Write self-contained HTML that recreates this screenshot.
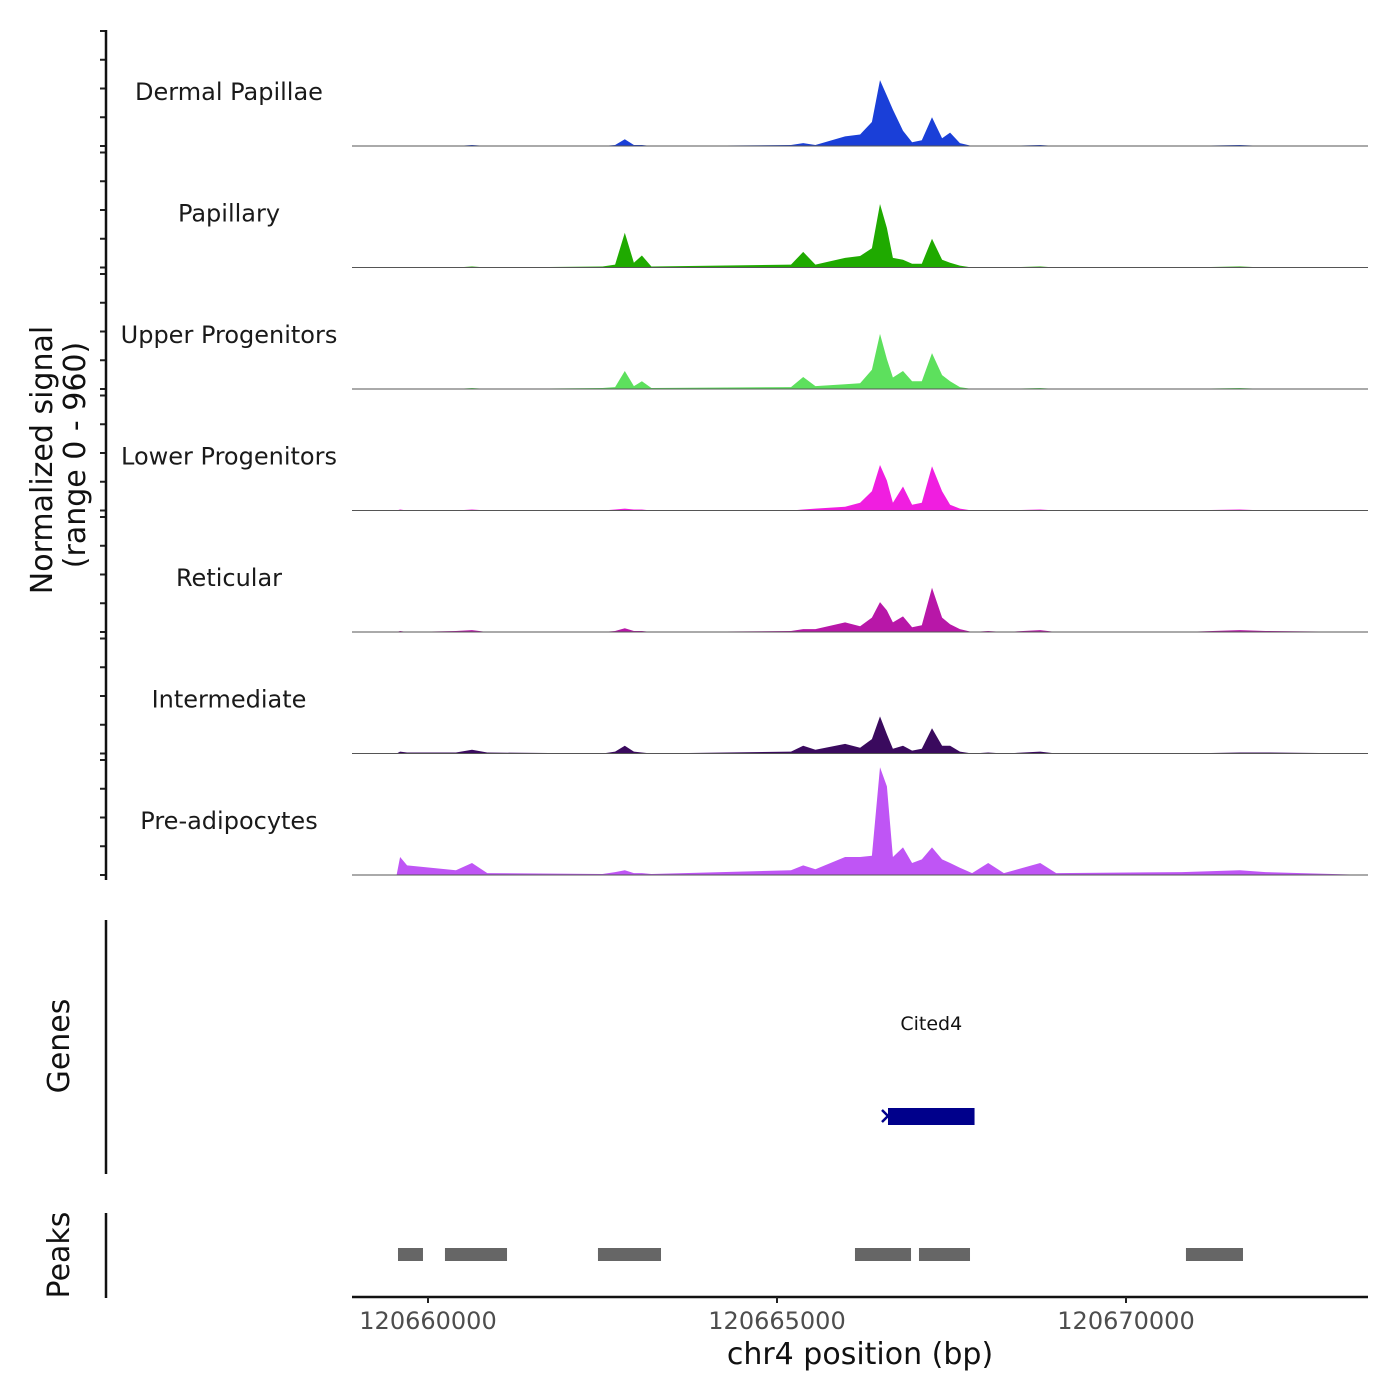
<!DOCTYPE html>
<html><head><meta charset="utf-8"><style>
body{margin:0;background:#fff}
svg{display:block;font-family:"DejaVu Sans","Liberation Sans",sans-serif}
</style></head><body>
<svg id="chart" width="1400" height="1400" viewBox="0 0 1400 1400">
<g id="tracks"></g>
<g id="axes"></g>
</svg>
<script>
const trackNames = ["Dermal Papillae","Papillary","Upper Progenitors","Lower Progenitors","Reticular","Intermediate","Pre-adipocytes"];
const trackColors = ["#1a3fd8","#1faa00","#5de05d","#f01ee0","#b817a8","#3a0a5e","#bf55f5"];
const positions = [120658911,120659550,120659600,120659700,120660400,120660630,120660850,120662500,120662680,120662820,120662950,120663065,120663200,120665200,120665375,120665550,120665975,120666190,120666360,120666475,120666575,120666660,120666805,120666935,120667075,120667220,120667365,120667480,120667620,120667795,120668025,120668250,120668770,120669000,120670800,120671630,120672000,120673467];
const dermalValues = [0,0,0,0,0,8,0,0,8,56,8,8,0,8,24,8,80,96,200,550,420,304,128,32,48,240,64,112,24,0,0,0,8,0,0,8,0,0];
const papillaryValues = [0,0,0,0,0,8,0,8,24,290,40,100,8,24,130,24,80,96,160,530,330,80,64,32,32,240,64,40,16,0,0,0,8,0,0,8,0,0];
const upperValues = [0,0,0,0,0,8,0,8,16,150,24,64,8,16,100,24,40,48,160,460,250,96,150,64,64,300,116,64,16,0,0,0,8,0,0,8,0,0];
const lowerValues = [0,0,8,0,0,8,0,0,8,16,8,8,0,0,8,16,32,64,160,380,250,64,200,48,64,370,160,48,16,0,0,0,8,0,0,8,0,0];
const reticularValues = [0,0,8,0,8,16,0,0,8,32,8,8,0,8,24,24,80,48,120,250,180,80,130,40,56,370,120,64,24,0,8,0,16,0,0,16,8,0];
const intermediateValues = [0,0,16,8,8,32,8,0,16,64,16,8,0,16,64,32,80,48,120,310,160,40,64,24,40,210,64,64,16,0,8,0,16,0,0,8,8,0];
const preadipocyteValues = [0,0,150,80,40,100,16,8,24,40,16,16,8,40,80,48,150,150,160,900,740,150,230,100,130,230,130,100,60,16,100,16,100,16,24,40,24,0];
const trackValues = [dermalValues,papillaryValues,upperValues,lowerValues,reticularValues,intermediateValues,preadipocyteValues];
const xTicks = [120660000,120665000,120670000];
const geneStart = 120666590, geneEnd = 120667830, geneName = "Cited4";
const peakStarts = [120659570,120660243,120662435,120666117,120667034,120670859];
const peakEnds   = [120659928,120661132,120663338,120666920,120667765,120671676];

const NS="http://www.w3.org/2000/svg";
const X0=352, X1=1368, BP0=120658911, BP1=120673467;
function xs(bp){return X0+(bp-BP0)/(BP1-BP0)*(X1-X0);}
const trackH=115;
function ys(v,base){return base - v/960*trackH;}
function el(tag,attrs,parent,text){const e=document.createElementNS(NS,tag);for(const k in attrs)e.setAttribute(k,attrs[k]);if(text!==undefined)e.textContent=text;parent.appendChild(e);return e;}
const tracksG=document.getElementById('tracks'), axesG=document.getElementById('axes');

trackNames.forEach((name,i)=>{
  const base=146+i*121.5;
  const g=el('g',{},tracksG);
  
  
  const vals=trackValues[i];
  let d='M'+xs(positions[0])+','+base;
  positions.forEach((p,j)=>{d+=' L'+xs(p).toFixed(1)+','+ys(vals[j],base).toFixed(1);});
  d+=' L'+xs(positions[positions.length-1])+','+base+' Z';
  const a=el('path',{d:d,fill:trackColors[i]},g);
  
  
  const bl=el('line',{x1:X0,x2:X1,y1:base,y2:base,stroke:'#555','stroke-width':1},g);
  
  
  const t=el('text',{x:229,y:base-46,'text-anchor':'middle','font-size':24,fill:'#1a1a1a'},g,name);
  
  
  for(let k=0;k<=4;k++){
    const ty=base-k*trackH/4;
    const tk=el('line',{x1:100,x2:105,y1:ty,y2:ty,stroke:'#222','stroke-width':2},axesG);
    
    
  }
});
function vline(y1,y2,name){const l=el('line',{x1:106,x2:106,y1:y1,y2:y2,stroke:'#111','stroke-width':2.5},axesG);}
vline(30,880,'signal-y-axis');vline(920,1174,'genes-y-axis');vline(1213,1298,'peaks-y-axis');
function rtext(x,y,s,size,name){const t=el('text',{x:x,y:y,'text-anchor':'middle','font-size':size,fill:'#111',transform:'rotate(-90 '+x+' '+y+')'},axesG,s);}
rtext(52,460,'Normalized signal',30,'y-axis-title');
rtext(85,455,'(range 0 - 960)',30,'y-axis-subtitle');
rtext(69,1046,'Genes',30,'genes-title');
rtext(69,1255,'Peaks',30,'peaks-title');

const gx1=xs(geneStart), gx2=xs(geneEnd);
const gl=el('text',{x:(gx1+gx2)/2,y:1030,'text-anchor':'middle','font-size':19,fill:'#111'},tracksG,geneName);


const gb=el('rect',{x:gx1,y:1108,width:gx2-gx1,height:17,fill:'#00008b'},tracksG);


const ga=el('path',{d:'M'+(gx1-6)+',1110 L'+(gx1)+',1116 L'+(gx1-6)+',1122',stroke:'#00008b','stroke-width':2.5,fill:'none'},tracksG);



peakStarts.forEach((s,i)=>{
  const r=el('rect',{x:xs(s),y:1248,width:xs(peakEnds[i])-xs(s),height:13,fill:'#666'},tracksG);
  
  
});

const xl=el('line',{x1:X0,x2:X1,y1:1297,y2:1297,stroke:'#111','stroke-width':2.5},axesG);


xTicks.forEach(v=>{
  const x=xs(v);
  const tk=el('line',{x1:x,x2:x,y1:1297,y2:1303,stroke:'#222','stroke-width':2},axesG);
  
  
  const t=el('text',{x:x,y:1329,'text-anchor':'middle','font-size':24,fill:'#4d4d4d'},axesG,String(v));
  
  
});
const xt=el('text',{x:860,y:1364,'text-anchor':'middle','font-size':30,fill:'#111'},axesG,'chr4 position (bp)');


</script>
</body></html>
